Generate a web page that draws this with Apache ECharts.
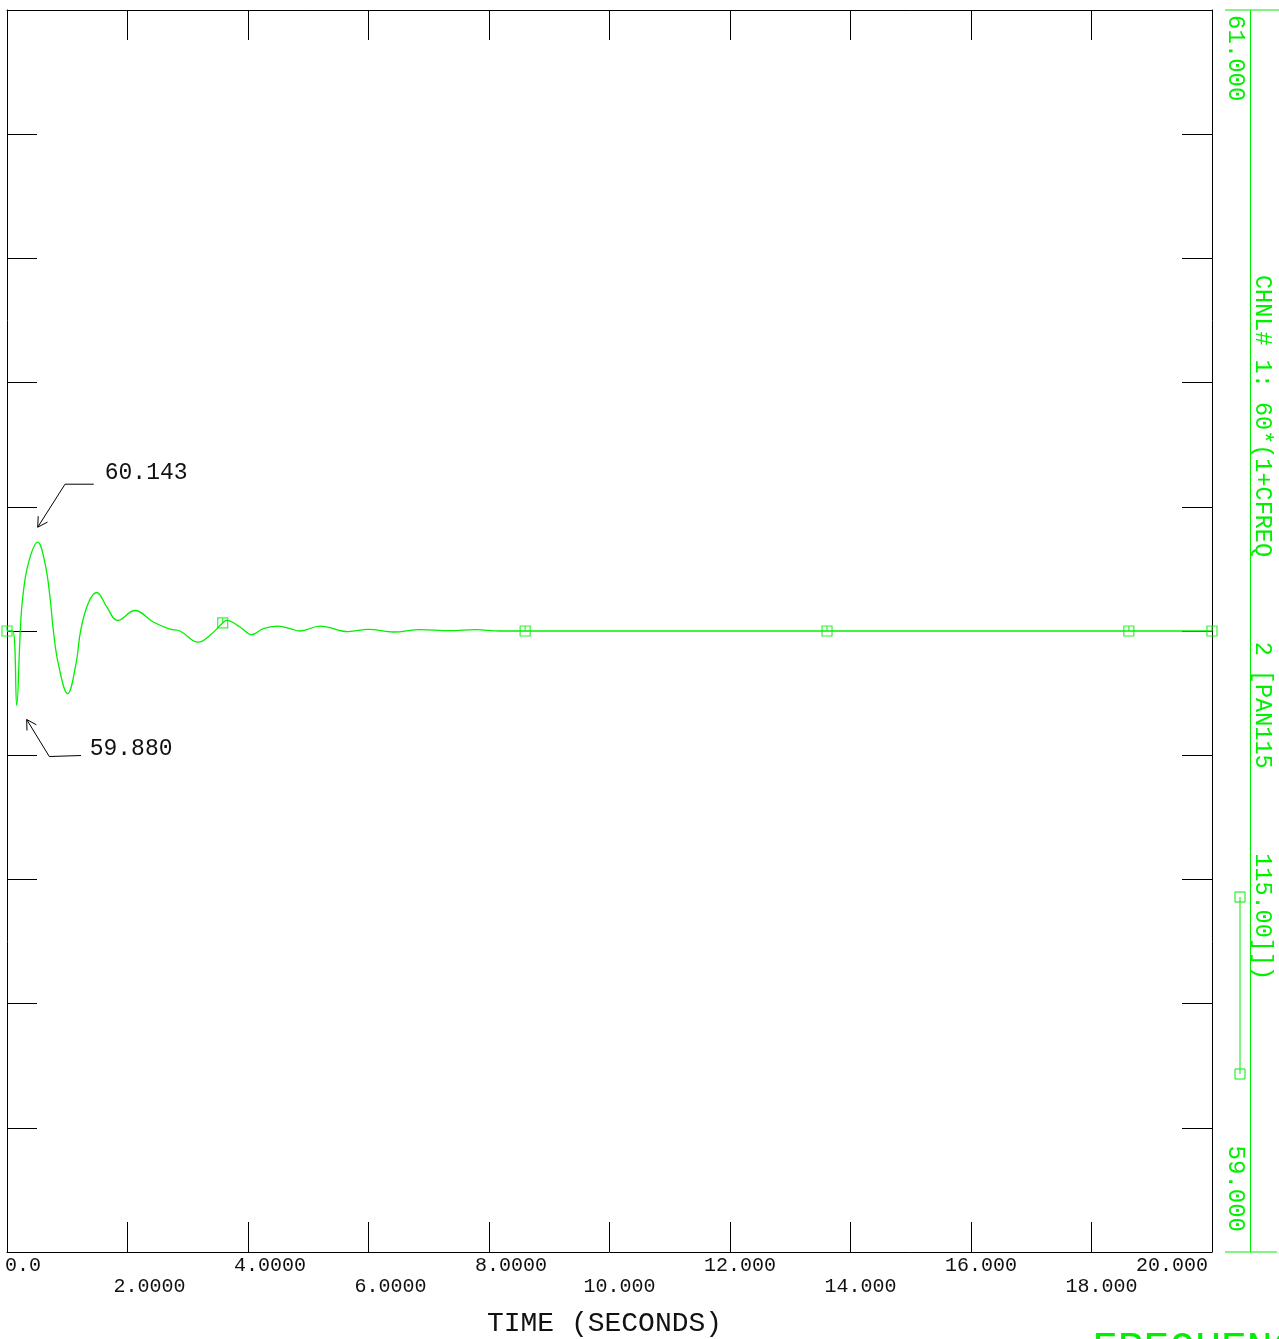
<!DOCTYPE html>
<html><head><meta charset="utf-8">
<script src="https://cdn.jsdelivr.net/npm/echarts@6/dist/echarts.min.js"></script>
<style>html,body{margin:0;padding:0;background:#fff}#c{width:1279px;height:1339px}</style>
</head><body><div id="c"></div>
<script>
// ---- data ----
const timeS = [0, 0.095, 0.161, 0.221, 0.261, 0.354, 0.51, 0.631, 0.714, 0.769, 0.852, 1.007, 1.145, 1.223, 1.35, 1.489, 1.655, 1.837, 2.124, 2.428, 2.705, 2.871, 3.175, 3.369, 3.58, 3.647, 3.867, 4.061, 4.254, 4.476, 4.697, 4.863, 5.195, 5.665, 5.997, 6.412, 6.855, 7.353, 7.768, 8.183, 8.6, 10, 12, 14, 16, 18, 20];
const freqHz = [60.0, 60.0, 59.880, 60.001, 60.054, 60.109, 60.143, 60.109, 60.054, 60.001, 59.947, 59.899, 59.947, 60.001, 60.045, 60.062, 60.039, 60.017, 60.033, 60.0145, 60.003, 60.0, 59.982, 59.993, 60.013, 60.017, 60.0064, 59.9942, 60.0039, 60.008, 60.0039, 60.0, 60.008, 59.999, 60.0027, 59.9984, 60.0023, 60.0006, 60.0023, 60.0, 60.0, 60.0, 60.0, 60.0, 60.0, 60.0, 60.0];
const markerT = [0, 3.58, 8.6, 13.61, 18.62, 20];
const markerV = [60.0, 60.013, 60.0, 60.0, 60.0, 60.0];
const xTickVals = [0, 2, 4, 6, 8, 10, 12, 14, 16, 18, 20];
const xTickLabels = ['0.0', '2.0000', '4.0000', '6.0000', '8.0000', '10.000', '12.000', '14.000', '16.000', '18.000', '20.000'];
const yMinMax = [59, 61];
const yStep = 0.2;
const annT = [0.51, 0.161];
const annV = [60.143, 59.880];
const annLabels = ['60.143', '59.880'];
const rightLabels = ['61.000', '59.000'];
const channelLabel = 'CHNL# 1: 60*(1+CFREQ      2 [PAN115      115.00]])';
const xTitle = 'TIME (SECONDS)';
const yTitle = 'FREQUENCY';

const GREEN = '#00f000';
const FONT = '"Liberation Mono", "DejaVu Sans Mono", monospace';
const chart = echarts.init(document.getElementById('c'), null, {renderer: 'canvas'});

function frameAxis(pos) {
  const vert = pos === 'left' || pos === 'right';
  return {
    type: 'value', position: pos, min: vert ? yMinMax[0] : 0,
    max: vert ? yMinMax[1] : 20,
    interval: vert ? yStep : 2,
    axisLine: {show: true, onZero: false, lineStyle: {color: '#000', width: 1}},
    axisTick: {show: true, inside: true, length: 30, lineStyle: {color: '#000', width: 1}},
    axisLabel: {show: false}, splitLine: {show: false}
  };
}

chart.setOption({
  animation: false,
  backgroundColor: '#fff',
  grid: {left: 7, top: 10, width: 1205, height: 1242, containLabel: false, outerBoundsMode: 'none'},
  xAxis: [frameAxis('bottom'), frameAxis('top')],
  yAxis: [frameAxis('left'), frameAxis('right')],
  series: [
    {
      type: 'line', xAxisIndex: 0, yAxisIndex: 0, smooth: 0.4, showSymbol: false, symbol: 'none',
      lineStyle: {color: GREEN, width: 1.3},
      data: timeS.map((t, i) => [t, freqHz[i]]), z: 3
    },
    {
      type: 'scatter', xAxisIndex: 0, yAxisIndex: 0,
      symbol: 'path://M0 0H10V10H0ZM5 0V5', symbolSize: 10,
      itemStyle: {color: 'rgba(0,0,0,0)', borderColor: GREEN, borderWidth: 1.2},
      data: markerT.map((t, i) => [t, markerV[i]]), z: 4
    }
  ]
});

const txt = (text, x, y, size, color, align, valign, rot) => ({
  type: 'text', x: x, y: y, rotation: rot || 0, silent: true,
  style: {text: text, fill: color, font: size + 'px ' + FONT,
    align: align, verticalAlign: valign, textAlign: align, textVerticalAlign: valign}
});
const ln = (x1, y1, x2, y2, color) => ({
  type: 'line', silent: true, shape: {x1: x1, y1: y1, x2: x2, y2: y2},
  style: {stroke: color, lineWidth: 1}
});
const poly = (pts, color) => ({
  type: 'polyline', silent: true, shape: {points: pts}, style: {stroke: color, lineWidth: 1, fill: null}
});

const g = [];
// x tick labels, decimal point placed at the tick, staggered in two rows
const lblSize = 20, cw = lblSize * 0.6;
const x0 = chart.convertToPixel({xAxisIndex: 0}, 0), x1 = chart.convertToPixel({xAxisIndex: 0}, 20);
xTickVals.forEach((v, i) => {
  const px = chart.convertToPixel({xAxisIndex: 0}, v);
  const s = xTickLabels[i];
  const intDigits = s.indexOf('.');
  let start = px - intDigits * cw - 2;
  const w = s.length * cw;
  if (start < x0 - 2) start = x0 - 2;
  if (start + w > x1 - 4) start = x1 - 4 - w;
  g.push(txt(s, start, i % 2 === 0 ? 1266 : 1287, lblSize, '#111', 'left', 'middle'));
});
g.push(txt(xTitle, (x0 + x1) / 2 - 5, 1324, 28, '#111', 'center', 'middle'));

// annotations of extreme values
const annGeom = [
  {tip: [0, -15], bend: [27.3, -58], end: [56, -58], text: [67, -69]},
  {tip: [10, 14], bend: [32.6, 51], end: [64.3, 50], text: [73, 43]}
];
annT.forEach((t, i) => {
  const p = chart.convertToPixel({gridIndex: 0}, [t, annV[i]]);
  const a = annGeom[i];
  const tip = [p[0] + a.tip[0], p[1] + a.tip[1]];
  const bend = [p[0] + a.bend[0], p[1] + a.bend[1]];
  const end = [p[0] + a.end[0], p[1] + a.end[1]];
  g.push(poly([end, bend, tip], '#000'));
  const ang = Math.atan2(bend[1] - tip[1], bend[0] - tip[0]);
  const L = 11, d = Math.PI / 6;
  g.push(poly([[tip[0] + L * Math.cos(ang - d), tip[1] + L * Math.sin(ang - d)], tip,
               [tip[0] + L * Math.cos(ang + d), tip[1] + L * Math.sin(ang + d)]], '#000'));
  g.push(txt(annLabels[i], p[0] + a.text[0], p[1] + a.text[1], 23, '#111', 'left', 'middle'));
});

// right-hand channel scale & legend
const yTop = chart.convertToPixel({yAxisIndex: 0}, yMinMax[1]);
const yBot = chart.convertToPixel({yAxisIndex: 0}, yMinMax[0]);
g.push(ln(1250.5, yTop, 1250.5, yBot, GREEN));
g.push(ln(1225, yTop, 1279, yTop, GREEN));
g.push(ln(1225, yBot, 1277, yBot, GREEN));
g.push(txt(rightLabels[0], 1235, yTop + 5, 24, GREEN, 'left', 'middle', -Math.PI / 2));
g.push(txt(rightLabels[1], 1235, yBot - 20, 24, GREEN, 'right', 'middle', -Math.PI / 2));
g.push(txt(channelLabel, 1262, 275, 23.5, GREEN, 'left', 'middle', -Math.PI / 2));
g.push(ln(1240, 897, 1240, 1074, GREEN));
g.push({type: 'rect', silent: true, shape: {x: 1235, y: 892, width: 10, height: 10}, style: {fill: 'none', stroke: GREEN, lineWidth: 1}});
g.push({type: 'rect', silent: true, shape: {x: 1235, y: 1069, width: 10, height: 10}, style: {fill: 'none', stroke: GREEN, lineWidth: 1}});
g.push(txt(yTitle, 1092, 1328, 43, GREEN, 'left', 'top'));

chart.setOption({graphic: {elements: g}});
</script></body></html>
